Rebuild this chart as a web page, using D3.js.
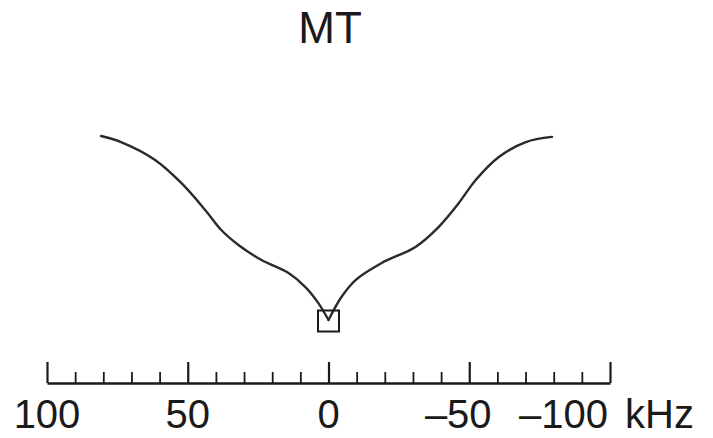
<!DOCTYPE html>
<html>
<head>
<meta charset="utf-8">
<script src="https://cdn.jsdelivr.net/npm/d3@7"></script>
<style>
  html, body { margin: 0; padding: 0; background: #fff; }
  svg { display: block; font-family: "Liberation Sans", Arial, sans-serif; }
</style>
</head>
<body>
<svg id="chart" width="713" height="438"></svg>
<script>
// Frequency offset (kHz) and relative response of the MT spectrum
const freqKHz = [80.8, 73.7, 61.6, 52.3, 43.8, 38.1, 32, 23.8, 14.2, 8.2, 3.6, 0,
                 -4.6, -9.6, -18.9, -30.9, -39.1, -46.3, -52.3, -60.5, -70.1, -79.4];
const response = [100, 96.7, 87.0, 74.5, 59.8, 48.9, 40.8, 32.6, 25.5, 17.9, 9.2, 0,
                  12.5, 21.7, 31.0, 39.7, 50.5, 63.6, 76.1, 88.6, 96.7, 99.5];
// Marked carrier position
const markerKHz = [0];
const markerResponse = [0];
// Axis ticks
const majorTicks = [100, 50, 0, -50, -100];
const majorLabels = ["100", "50", "0", "\u201350", "\u2013100"];
const minorTicks = [90, 80, 70, 60, 40, 30, 20, 10, -10, -20, -30, -40, -60, -70, -80, -90];
const unitLabel = "kHz";
const title = "MT";

const svg = d3.select("#chart");
const axisY = 383;

const x = d3.scaleLinear().domain([100, -100]).range([47, 610]);
const y = d3.scaleLinear().domain([0, 100]).range([320, 136]);

const points = freqKHz.map((f, i) => ({ f, v: response[i] }));

// Title
svg.append("text")
  .attr("x", 330).attr("y", 43)
  .attr("text-anchor", "middle")
  .attr("font-size", 44)
  .attr("fill", "#1a1a1a")
  .text(title);

// Spectrum: two wings meeting in a cusp at the carrier
const line = d3.line()
  .x(d => x(d.f))
  .y(d => y(d.v))
  .curve(d3.curveCatmullRom.alpha(0.5));

const wings = [
  points.filter(d => d.f >= 0).sort((a, b) => b.f - a.f),
  points.filter(d => d.f <= 0).sort((a, b) => b.f - a.f)
];

svg.selectAll("path.wing")
  .data(wings)
  .join("path")
  .attr("class", "wing")
  .attr("d", line)
  .attr("fill", "none")
  .attr("stroke", "#2b2b2b")
  .attr("stroke-width", 2.4)
  .attr("stroke-linejoin", "round")
  .attr("stroke-linecap", "round");

// Carrier marker
const boxSize = 21;
svg.selectAll("rect.marker")
  .data(markerKHz.map((f, i) => ({ f, v: markerResponse[i] })))
  .join("rect")
  .attr("class", "marker")
  .attr("x", d => x(d.f) - boxSize / 2)
  .attr("y", d => y(d.v) - boxSize / 2 + 1)
  .attr("width", boxSize)
  .attr("height", boxSize)
  .attr("fill", "none")
  .attr("stroke", "#1a1a1a")
  .attr("stroke-width", 2);

// Frequency axis: major and minor ticks pointing up from the baseline
const gMajor = svg.append("g")
  .attr("transform", `translate(0,${axisY})`)
  .call(d3.axisTop(x).tickValues(majorTicks).tickSize(21).tickSizeOuter(0).tickFormat(""));
const gMinor = svg.append("g")
  .attr("transform", `translate(0,${axisY})`)
  .call(d3.axisTop(x).tickValues(minorTicks).tickSize(11).tickSizeOuter(0).tickFormat(""));

gMinor.select(".domain").remove();
gMajor.select(".domain")
  .attr("stroke", "#1a1a1a")
  .attr("stroke-width", 2.5);
gMajor.selectAll(".tick line").attr("stroke", "#1a1a1a").attr("stroke-width", 2.2);
gMinor.selectAll(".tick line").attr("stroke", "#1a1a1a").attr("stroke-width", 1.8);

// Tick labels: digits centred on the tick; the last label sits left of its tick
const labelY = 428;
const labelSize = 40;
const lastIdx = majorTicks.length - 1;
svg.selectAll("text.tick-label")
  .data(majorTicks.map((v, i) => ({ v, s: majorLabels[i], i })))
  .join("text")
  .attr("class", "tick-label")
  .attr("x", d => {
    if (d.i === lastIdx) return x(d.v) - 2;
    return d.s.startsWith("\u2013") ? x(d.v) - 11 : x(d.v);
  })
  .attr("y", labelY)
  .attr("text-anchor", d => d.i === lastIdx ? "end" : "middle")
  .attr("font-size", labelSize)
  .attr("fill", "#1a1a1a")
  .text(d => d.s);

svg.append("text")
  .attr("x", x(majorTicks[lastIdx]) + 15)
  .attr("y", labelY)
  .attr("text-anchor", "start")
  .attr("font-size", labelSize)
  .attr("fill", "#1a1a1a")
  .text(unitLabel);
</script>
</body>
</html>
